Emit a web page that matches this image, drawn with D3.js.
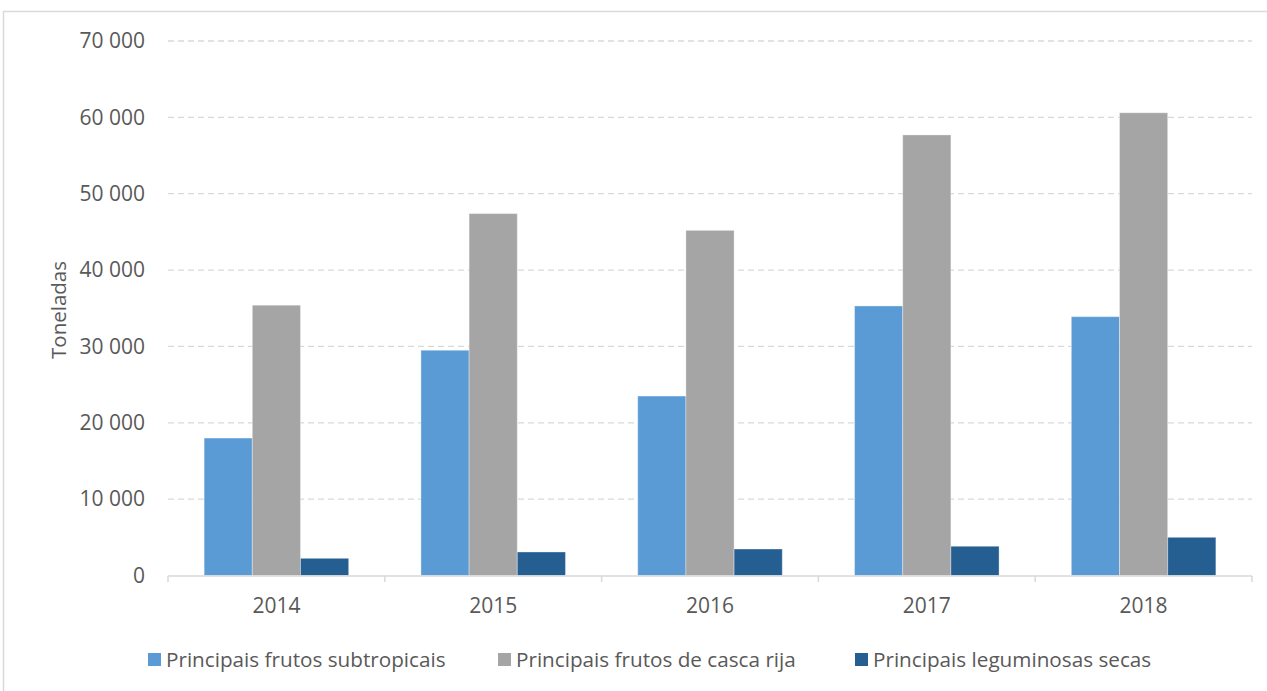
<!DOCTYPE html>
<html><head><meta charset="utf-8">
<script src="https://cdn.jsdelivr.net/npm/d3@7"></script>
<style>body{margin:0;background:#fff;} svg{display:block;}</style>
</head><body>
<script>
const years = ["2014","2015","2016","2017","2018"];
const seriesNames = ["Principais frutos subtropicais","Principais frutos de casca rija","Principais leguminosas secas"];
const subtropicais = [18000, 29500, 23500, 35300, 33900];
const cascaRija = [35400, 47400, 45200, 57700, 60600];
const leguminosas = [2250, 3080, 3470, 3830, 5000];
const yTicks = [0,10000,20000,30000,40000,50000,60000,70000];
const colors = ["#5B9BD5","#A5A5A5","#255E91"];
const seriesVals = [subtropicais, cascaRija, leguminosas];

const W=1267,H=691;
const svg=d3.select("body").append("svg").attr("width",W).attr("height",H);
const font="'Open Sans', sans-serif";
const txt="#595959";

// outer border
svg.append("line").attr("x1",3).attr("x2",W).attr("y1",11.5).attr("y2",11.5).attr("stroke","#d9d9d9").attr("stroke-width",1.5);
svg.append("line").attr("x1",3.5).attr("x2",3.5).attr("y1",11).attr("y2",H).attr("stroke","#d9d9d9").attr("stroke-width",1.5);

const x0=d3.scaleBand().domain(years).range([168,1252]).paddingInner(0).paddingOuter(0);
const y=d3.scaleLinear().domain([0,70000]).range([575.5,41]);
const x1=d3.scaleBand().domain(d3.range(3)).range([0,x0.bandwidth()]).paddingOuter(0.75).paddingInner(0);

// gridlines
svg.append("g").selectAll("line").data(yTicks.filter(d=>d>0)).join("line")
 .attr("x1",168).attr("x2",1252).attr("y1",d=>y(d)).attr("y2",d=>y(d))
 .attr("stroke","#d9d9d9").attr("stroke-width",1.3).attr("stroke-dasharray","6,4");

// y labels
svg.append("g").selectAll("text").data(yTicks).join("text")
 .attr("x",145).attr("y",d=>y(d)).attr("dy","0.35em").attr("text-anchor","end")
 .attr("font-family",font).attr("font-size",21).attr("fill",txt)
 .text(d=>d3.format(",")(d).replace(/,/g," "));

// bars
const g=svg.append("g");
years.forEach((yr,i)=>{
  seriesVals.forEach((vals,s)=>{
    g.append("rect").attr("x",x0(yr)+x1(s)).attr("width",x1.bandwidth())
     .attr("y",y(vals[i])).attr("height",y(0)-y(vals[i]))
     .attr("fill",colors[s]).attr("stroke","#ffffff").attr("stroke-opacity",0.35).attr("stroke-width",1);
  });
});

// x axis
svg.append("line").attr("x1",168).attr("x2",1252).attr("y1",576).attr("y2",576).attr("stroke","#d9d9d9").attr("stroke-width",1.5);
const bounds=years.map(d=>x0(d)).concat([1252]);
svg.append("g").selectAll("line").data(bounds).join("line")
 .attr("x1",d=>d).attr("x2",d=>d).attr("y1",576).attr("y2",582).attr("stroke","#d9d9d9").attr("stroke-width",1.5);
svg.append("g").selectAll("text").data(years).join("text")
 .attr("x",d=>x0(d)+x0.bandwidth()/2).attr("y",606).attr("dy","0.35em").attr("text-anchor","middle")
 .attr("font-family",font).attr("font-size",21).attr("fill",txt).text(d=>d);

// y title
svg.append("text").attr("transform","translate(59,310) rotate(-90)").attr("text-anchor","middle")
 .attr("dy","0.35em").attr("font-family",font).attr("font-size",20.5).attr("fill",txt).text("Toneladas");

// legend
const legX=[148,498,855];
seriesNames.forEach((n,s)=>{
  svg.append("rect").attr("x",legX[s]).attr("y",653).attr("width",13).attr("height",13).attr("fill",colors[s]);
  svg.append("text").attr("x",legX[s]+18).attr("y",660).attr("dy","0.35em")
   .attr("font-family",font).attr("font-size",20.7).attr("fill",txt).text(n);
});
</script>
</body></html>
